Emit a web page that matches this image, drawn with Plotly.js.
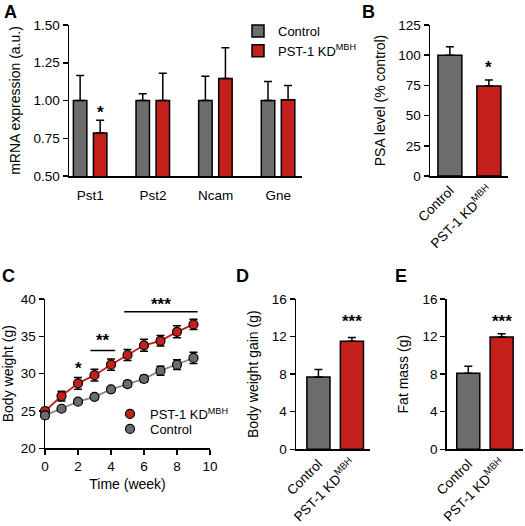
<!DOCTYPE html>
<html>
<head>
<meta charset="utf-8">
<script src="https://cdn.plot.ly/plotly-3.0.1.min.js"></script>
<style>html,body{margin:0;padding:0;background:#fff;}#chart{width:525px;height:526px;}</style>
</head>
<body>
<div id="chart"></div>
<script>
// ---- Panel A: mRNA expression ----
const genes = ["Pst1", "Pst2", "Ncam", "Gne"];
const mrnaControl = [1.00, 1.00, 1.00, 1.00];
const mrnaControlErr = [0.165, 0.045, 0.16, 0.125];
const mrnaKD = [0.785, 1.00, 1.145, 1.005];
const mrnaKDErr = [0.085, 0.18, 0.205, 0.095];

// ---- Panel B: PSA level ----
const groups = ["Control", "PST-1 KD<sup>MBH</sup>"];
const psaLevel = [100, 74.5];
const psaErr = [7, 5];

// ---- Panel C: body weight over time ----
const weeks = [0, 1, 2, 3, 4, 5, 6, 7, 8, 9];
const bwKD = [25.0, 27.0, 28.7, 29.8, 31.2, 32.5, 33.8, 34.4, 35.6, 36.6];
const bwKDErr = [0.4, 0.65, 0.8, 0.8, 0.75, 0.75, 0.8, 0.7, 0.8, 0.7];
const bwControl = [24.4, 25.3, 26.25, 26.9, 27.9, 28.6, 29.3, 30.4, 31.2, 32.1];
const bwControlErr = [0.4, 0.3, 0.3, 0.3, 0.35, 0.4, 0.45, 0.6, 0.65, 0.75];

// ---- Panel D: body weight gain ----
const bwGain = [7.7, 11.5];
const bwGainErr = [0.8, 0.4];

// ---- Panel E: fat mass ----
const fatMass = [8.1, 11.95];
const fatMassErr = [0.75, 0.35];

const GRAY = "#6c6c6c";
const RED = "#c3201b";
const FONT = "Liberation Sans, Arial, Helvetica, sans-serif";
const W = 525, H = 526;
const px = v => v / W;
const py = v => 1 - v / H;

const barLine = {color: "#000", width: 1.5};
const errUp = (arr) => ({type: "data", symmetric: false, array: arr, arrayminus: arr.map(() => 0), color: "#000", thickness: 1.5, width: 4});
const errSym = (arr) => ({type: "data", array: arr, color: "#000", thickness: 1.5, width: 4});

const traces = [
  {type: "bar", name: "Control", x: genes, y: mrnaControl, xaxis: "x", yaxis: "y",
   marker: {color: GRAY, line: barLine}, width: 0.215, offset: -0.27,
   error_y: errUp(mrnaControlErr), legend: "legend", hoverinfo: "skip"},
  {type: "bar", name: "PST-1 KD<sup>MBH</sup>", x: genes, y: mrnaKD, xaxis: "x", yaxis: "y",
   marker: {color: RED, line: barLine}, width: 0.215, offset: 0.05,
   error_y: errUp(mrnaKDErr), legend: "legend", hoverinfo: "skip"},
  {type: "bar", x: groups, y: psaLevel, xaxis: "x2", yaxis: "y2", showlegend: false,
   marker: {color: [GRAY, RED], line: barLine}, width: 0.615,
   error_y: errUp(psaErr)},
  {type: "scatter", mode: "lines", x: weeks, y: bwControl, xaxis: "x3", yaxis: "y3",
   line: {color: "#8a8a8a", width: 1.8}, showlegend: false, cliponaxis: false},
  {type: "scatter", mode: "lines", x: weeks, y: bwKD, xaxis: "x3", yaxis: "y3",
   line: {color: RED, width: 1.8}, showlegend: false, cliponaxis: false},
  {type: "scatter", mode: "markers", name: "PST-1 KD<sup>MBH</sup>", x: weeks, y: bwKD, xaxis: "x3", yaxis: "y3",
   marker: {color: RED, size: 9, line: {color: "#000", width: 1.2}},
   error_y: errSym(bwKDErr), legend: "legend2", cliponaxis: false},
  {type: "scatter", mode: "markers", name: "Control", x: weeks, y: bwControl, xaxis: "x3", yaxis: "y3",
   marker: {color: GRAY, size: 9, line: {color: "#000", width: 1.2}},
   error_y: errSym(bwControlErr), legend: "legend3", cliponaxis: false},
  {type: "bar", x: groups, y: bwGain, xaxis: "x4", yaxis: "y4", showlegend: false,
   marker: {color: [GRAY, RED], line: barLine}, width: 0.69,
   error_y: errUp(bwGainErr)},
  {type: "bar", x: groups, y: fatMass, xaxis: "x5", yaxis: "y5", showlegend: false,
   marker: {color: [GRAY, RED], line: barLine}, width: 0.69,
   error_y: errUp(fatMassErr)}
];

const axBase = {showline: true, linecolor: "#000", linewidth: 1.5, ticks: "outside", ticklen: 5,
  tickwidth: 1.5, tickcolor: "#000", showgrid: false, zeroline: false, automargin: false,
  tickfont: {size: 13.5, family: FONT, color: "#000"}, fixedrange: true};
const ttl = (t, s) => ({text: t, font: {size: 14, family: FONT, color: "#000"}, standoff: s});
const catAx = (domain, range, anchor, angle) => Object.assign({}, axBase, {
  domain: domain, range: range, anchor: anchor, type: "category", ticks: "", tickangle: angle});
const leg = (x, y) => ({x: px(x), y: py(y), xanchor: "left", yanchor: "top", bgcolor: "rgba(0,0,0,0)",
  font: {size: 13, family: FONT, color: "#000"}, tracegroupgap: 0, itemclick: false, itemdoubleclick: false});

const layout = {
  width: W, height: H, margin: {l: 0, r: 0, t: 0, b: 0},
  paper_bgcolor: "#fff", plot_bgcolor: "rgba(0,0,0,0)",
  font: {family: FONT, size: 13, color: "#000"},
  barmode: "overlay", hovermode: false,
  xaxis: Object.assign(catAx([px(69), px(302)], [-0.34, 3.38], "y", 0), {ticklabelstandoff: 6}),
  yaxis: Object.assign({}, axBase, {domain: [py(176), py(25)], range: [0.5, 1.5], tick0: 0.5, dtick: 0.25,
    tickformat: ".2f", anchor: "x", title: ttl("mRNA expression (a.u.)", 9)}),
  xaxis2: catAx([px(430), px(508)], [-0.51, 1.49], "y2", -45),
  yaxis2: Object.assign({}, axBase, {domain: [py(176), py(25)], range: [0, 125], dtick: 25,
    anchor: "x2", title: ttl("PSA level (% control)", 9)}),
  xaxis3: Object.assign({}, axBase, {domain: [px(45), px(210)], range: [0, 10], dtick: 2,
    anchor: "y3", title: ttl("Time (week)", 6)}),
  yaxis3: Object.assign({}, axBase, {domain: [py(448.3), py(299)], range: [20, 40], dtick: 5,
    anchor: "x3", layer: "below traces", title: ttl("Body weight (g)", 8)}),
  xaxis4: catAx([px(296), px(370)], [-0.67, 1.54], "y4", -45),
  yaxis4: Object.assign({}, axBase, {domain: [py(449.3), py(299)], range: [0, 16], dtick: 4,
    anchor: "x4", title: ttl("Body weight gain (g)", 10)}),
  xaxis5: catAx([px(446.7), px(523)], [-0.647, 1.64], "y5", -45),
  yaxis5: Object.assign({}, axBase, {domain: [py(449.3), py(299)], range: [0, 16], dtick: 4,
    anchor: "x5", title: ttl("Fat mass (g)", 10)}),
  legend: leg(238, 16),
  legend2: leg(110, 399),
  legend3: leg(110, 414),
  shapes: [
    {type: "line", xref: "x3", yref: "y3", x0: 2.75, x1: 4.25, y0: 33.1, y1: 33.1, line: {color: "#000", width: 1.5}},
    {type: "line", xref: "x3", yref: "y3", x0: 4.8, x1: 9.25, y0: 38.3, y1: 38.3, line: {color: "#000", width: 1.5}}
  ],
  annotations: []
};

const letter = (t, x, y) => ({text: "<b>" + t + "</b>", xref: "paper", yref: "paper", x: px(x), y: py(y),
  xanchor: "center", yanchor: "middle", showarrow: false, font: {size: 18, family: FONT, color: "#000"}});
const star = (t, xref, yref, x, y, xshift) => ({text: "<b>" + t + "</b>", xref: xref, yref: yref, x: x, y: y, xshift: xshift || 0,
  xanchor: "center", yanchor: "middle", showarrow: false, font: {size: 17, family: FONT, color: "#000"}});

layout.annotations.push(
  letter("A", 10, 12), letter("B", 368, 12), letter("C", 8, 276), letter("D", 242, 276), letter("E", 401, 276),
  star("*", "x", "y", genes[0], mrnaKD[0] + mrnaKDErr[0] + 0.05, 10),
  star("*", "x2", "y2", groups[1], psaLevel[1] + psaErr[1] + 10),
  star("*", "x3", "y3", weeks[2], 30.7),
  star("**", "x3", "y3", 3.5, 34.4),
  star("***", "x3", "y3", 7.0, 39.2),
  star("***", "x4", "y4", groups[1], 13.6),
  star("***", "x5", "y5", groups[1], 13.6)
);

Plotly.newPlot("chart", traces, layout, {staticPlot: true, displayModeBar: false});
</script>
</body>
</html>
